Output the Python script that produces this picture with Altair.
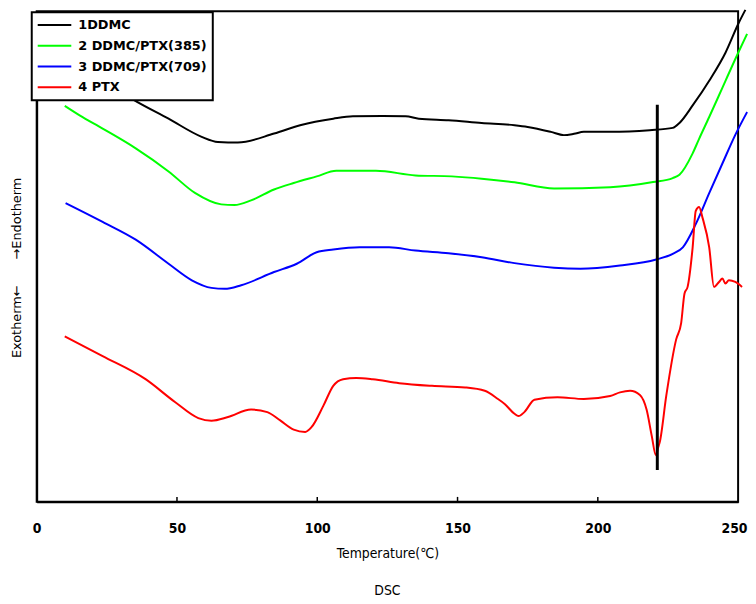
import altair as alt
import pandas as pd

# ---- data (temperature in deg C, heat-flow signal in arbitrary units) ----
series_names = ["1DDMC", "2 DDMC/PTX(385)", "3 DDMC/PTX(709)", "4 PTX"]
series_colors = ["#000000", "#00ff00", "#0000ff", "#ff0000"]

ddmc_t = [10, 20, 28, 34.1, 47.0, 58.8, 64.6, 68.2, 71.7, 84.6,
          93.9, 105.7, 112.7, 123.3, 131.5, 136.2, 146.8, 158.6, 170.3, 175.0,
          183.3, 187.9, 191.5, 195.0, 204.4, 218.5, 226.7, 229.1, 233.8, 239.7,
          245.5, 250.2, 252.6]
ddmc_v = [452, 432, 418, 407, 387.3, 369, 363.7, 363.3, 363.3, 372.3,
          380.7, 387.3, 389.7, 390, 389.7, 387.3, 385.7, 383, 380.7, 379,
          374, 370.7, 372, 374, 374, 375.7, 378, 383, 400.7, 425.7,
          454, 484, 497.3]

d385_t = [10.0, 15.3, 23.5, 35.3, 47.0, 56.4, 65.8, 70.5, 76.4, 84.6,
          91.6, 99.8, 106.8, 120.9, 135.0, 148.0, 158.6, 170.3, 184.4, 204.4,
          219.7, 226.7, 229.1, 233.8, 236.1, 239.7, 243.2, 245.5, 250.2, 253.2]
d385_v = [400.3, 390.7, 377.3, 357.3, 334, 312.3, 300.7, 300, 304.7, 315.7,
          322.3, 329, 334.7, 334.7, 330, 329, 326.7, 323, 316.7, 318,
          323.3, 327.3, 330.7, 352.3, 367, 389, 411, 425.6, 455, 473]

d709_t = [10.3, 23.5, 35.3, 47.0, 55.3, 62.3, 67.0, 72.9, 84.6, 92.7,
          99.8, 105.7, 115.1, 125.6, 135.0, 146.8, 158.6, 170.3, 184.4, 193.8,
          207.9, 220.8, 226.7, 230.3, 234.9, 239.7, 244.4, 249.0, 253.2]
d709_v = [302, 283, 265, 240.7, 224, 216.3, 215.3, 219, 232.3, 240.7,
          252.3, 255, 257.3, 257.3, 254, 251.3, 247.3, 241.3, 236.7, 235.7,
          239, 245, 250.7, 257.3, 280.7, 312, 342, 371, 394]

ptx_t = [10.0, 23.5, 38.8, 49.4, 57.6, 62.3, 68.2, 76.4, 82.2, 86.8,
         91.6, 95.7, 98.0, 102.2, 105.7, 109.2, 113.9, 119.8, 129.2, 140.9,
         152.7, 159.7, 164.4, 166.8, 170.3, 171.7, 173.8, 177.4, 185.6, 195.0,
         204.4, 207.9, 211.5, 215.0, 217.4, 219.2, 220.7, 221.4, 222.1, 224.4,
         227.9, 229.7, 230.9, 232.0, 233.8, 234.9, 236.1, 237.3, 239.7, 241.4,
         243.2, 244.4, 245.5, 246.7, 249.0, 251.4]
ptx_v = [167.3, 147.3, 124, 100.7, 84.7, 82, 85.7, 93.3, 90.7, 82.3,
         73, 70.7, 75.7, 97.3, 117.3, 124, 125.3, 124, 120, 117.3,
         115.7, 112.3, 104, 99, 89, 86.7, 90.7, 103.3, 105.7, 104,
         107, 110.7, 112.3, 108, 93, 67, 47, 54, 60.7, 107.3,
         164, 180.7, 210.7, 217.3, 257.3, 294, 298, 287.3, 257.3, 217.3,
         222.3, 225.7, 220.7, 224, 222.3, 217.3]

# vertical marker line
marker_t = [221.2]
marker_lo = [32.3]
marker_hi = [401.3]

# x axis
x_ticks = [0, 50, 100, 150, 200, 250]
inner_ticks = [50, 100, 150, 200]
inner_tick_len = 5

# ---- build tables ----
rows = []
for name, ts, vs in zip(series_names,
                        [ddmc_t, d385_t, d709_t, ptx_t],
                        [ddmc_v, d385_v, d709_v, ptx_v]):
    for t, v in zip(ts, vs):
        rows.append({"series": name, "t": t, "v": v})
curves = pd.DataFrame(rows)
marker = pd.DataFrame({"t": marker_t, "lo": marker_lo, "hi": marker_hi})
ticks_df = pd.DataFrame({"t": inner_ticks, "y0": [0] * len(inner_ticks),
                         "y1": [inner_tick_len] * len(inner_ticks)})

xscale = alt.Scale(domain=[0, 250], nice=False, zero=False)
yscale = alt.Scale(domain=[0, 496], nice=False, zero=False)

cond_font = "DejaVu Sans Condensed, Liberation Sans Narrow, Liberation Sans"

x_axis = alt.Axis(values=x_ticks, title="Temperature(℃)", ticks=False, grid=False,
                  labelPadding=20, labelFont=cond_font, labelFontSize=14,
                  labelFontWeight="bold", labelColor="black", labelFlush=False,
                  labelAlign={"condition": {"test": "datum.value === 250", "value": "right"},
                              "value": "center"},
                  labelOffset={"condition": {"test": "datum.value === 250", "value": 9},
                               "value": 0},
                  domainColor="black", domainWidth=2,
                  titleFont=cond_font, titleFontSize=14, titleFontWeight="normal",
                  titleColor="black", titlePadding=11)
y_axis = alt.Axis(labels=False, ticks=False, grid=False,
                  title="Exotherm←\u3000\u3000→Endotherm",
                  titleFont="DejaVu Sans", titleFontSize=13, titleFontWeight="normal",
                  titleColor="black", titlePadding=13, titleY=259,
                  domainColor="black", domainWidth=2)

lines = alt.Chart(curves).mark_line(strokeWidth=2, interpolate="monotone").encode(
    x=alt.X("t:Q", scale=xscale, axis=x_axis),
    y=alt.Y("v:Q", scale=yscale, axis=y_axis),
    color=alt.Color("series:N", title=None,
                    scale=alt.Scale(domain=series_names, range=series_colors),
                    sort=series_names),
    order="t:Q",
)

vline = alt.Chart(marker).mark_rule(color="black", strokeWidth=3).encode(
    x="t:Q", y="lo:Q", y2="hi:Q")

tick_marks = alt.Chart(ticks_df).mark_rule(color="black", strokeWidth=1.5).encode(
    x="t:Q", y="y0:Q", y2="y1:Q")

chart = alt.layer(lines, vline, tick_marks).properties(
    width=709, height=496,
    padding={"left": 29, "top": 0, "right": 10, "bottom": 96},
    autosize=alt.AutoSizeParams(type="none"),
    title=alt.TitleParams(text="DSC", orient="bottom", anchor="middle", frame="group",
                          offset=24, font=cond_font, fontSize=14,
                          fontWeight="normal", color="black"),
).configure_view(
    stroke="black", strokeWidth=2
).configure_legend(
    orient="none", legendX=-5, legendY=1,
    strokeColor="black", strokeWidth=2, fillColor="white", padding=6,
    labelFont="DejaVu Sans", labelFontSize=13, labelFontWeight="bold",
    labelColor="black", labelLimit=300,
    symbolType="M-3,0H3", symbolSize=128, symbolStrokeWidth=2,
    symbolOffset=10, labelOffset=17, rowPadding=7,
)

chart.save("out.html", embed_options={"renderer": "svg", "actions": False})
